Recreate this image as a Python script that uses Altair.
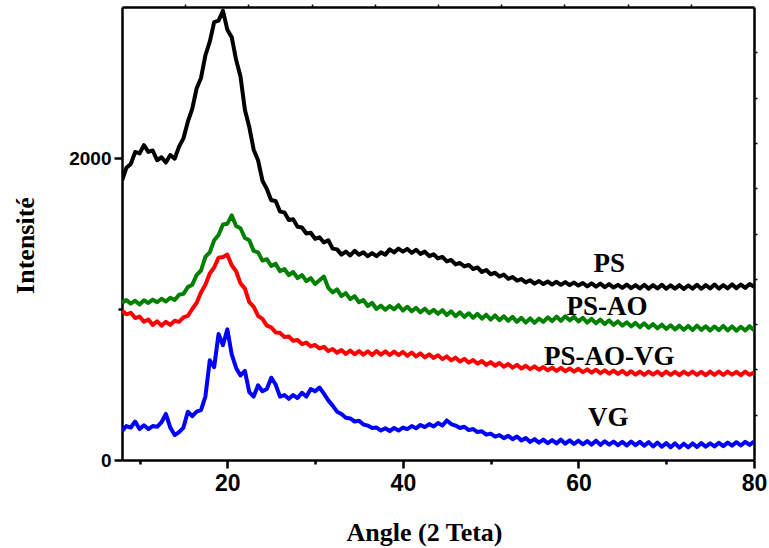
import altair as alt
import pandas as pd

# Diffraction angle grid (2 theta, degrees), 0.5 degree step from 8 to 80
ANGLES = [8 + 0.5 * i for i in range(145)]

PS = [
    1850, 1935, 1960, 2040, 2030, 2085, 2040, 2050, 1985, 2005, 1970, 2020, 1995, 2075, 2130, 2240,
    2325, 2460, 2530, 2680, 2770, 2900, 2910, 2975, 2850, 2800, 2650, 2540, 2320, 2205, 2055, 1985,
    1850, 1795, 1720, 1715, 1645, 1640, 1590, 1595, 1545, 1540, 1500, 1505, 1465, 1475, 1440, 1455,
    1400, 1395, 1360, 1380, 1355, 1385, 1360, 1375, 1350, 1370, 1350, 1375, 1360, 1395, 1375, 1400,
    1380, 1398, 1372, 1392, 1365, 1380, 1350, 1362, 1335, 1345, 1315, 1325, 1295, 1305, 1282, 1292,
    1265, 1275, 1245, 1258, 1230, 1240, 1215, 1228, 1200, 1212, 1188, 1198, 1176, 1190, 1168, 1185,
    1165, 1182, 1162, 1180, 1160, 1178, 1158, 1175, 1155, 1172, 1150, 1170, 1148, 1168, 1145, 1165,
    1142, 1160, 1140, 1162, 1138, 1158, 1136, 1160, 1135, 1158, 1136, 1160, 1134, 1157, 1135, 1158,
    1133, 1156, 1135, 1160, 1134, 1158, 1136, 1162, 1135, 1158, 1137, 1163, 1138, 1162, 1140, 1165,
    1148,
]

PS_AO = [
    1040, 1060, 1035, 1055, 1030, 1058, 1040, 1062, 1045, 1068, 1050, 1075, 1060, 1095, 1100, 1145,
    1160, 1225, 1255, 1345, 1375, 1455, 1490, 1560, 1565, 1620, 1550, 1535, 1470, 1455, 1385, 1375,
    1320, 1330, 1285, 1300, 1250, 1265, 1225, 1245, 1205, 1225, 1185, 1205, 1165, 1190, 1215, 1140,
    1110, 1130, 1085, 1105, 1065, 1085, 1045, 1060, 1020, 1040, 1000, 1022, 995, 1020, 998, 1025,
    990, 1015, 985, 1008, 978, 1002, 972, 995, 968, 992, 960, 985, 952, 978, 948, 972,
    942, 968, 936, 962, 930, 958, 926, 952, 922, 948, 915, 942, 910, 938, 908, 936,
    915, 945, 920, 950, 922, 952, 925, 948, 918, 942, 910, 935, 905, 930, 900, 925,
    895, 918, 890, 912, 885, 908, 880, 905, 876, 900, 872, 896, 868, 892, 865, 890,
    862, 888, 860, 890, 862, 886, 858, 884, 860, 888, 858, 885, 856, 882, 858, 886,
    860,
]

PS_AO_VG = [
    990, 965, 975, 940, 950, 915, 930, 895, 918, 890, 915, 895, 922, 915, 945, 955,
    1000, 1040, 1110, 1160, 1235, 1275, 1340, 1345, 1360, 1290, 1250, 1170, 1135, 1045, 1015, 955,
    935, 890, 878, 845, 842, 815, 818, 790, 795, 768, 778, 752, 762, 738, 750, 722,
    735, 710, 728, 702, 725, 700, 722, 698, 720, 696, 722, 698, 720, 695, 718, 695,
    716, 690, 712, 686, 706, 680, 700, 676, 694, 668, 686, 660, 678, 652, 670, 645,
    662, 638, 655, 630, 648, 624, 642, 618, 636, 612, 630, 606, 624, 602, 620, 598,
    616, 594, 612, 590, 610, 588, 606, 585, 604, 582, 600, 578, 598, 575, 594, 572,
    592, 570, 590, 566, 588, 565, 586, 564, 586, 565, 585, 562, 586, 564, 584, 562,
    585, 565, 586, 563, 584, 562, 585, 564, 586, 563, 585, 565, 584, 562, 586, 564,
    580,
]

VG = [
    190, 225, 215, 255, 205, 230, 205, 225, 220, 250, 305, 215, 165, 185, 215, 320,
    290, 320, 330, 420, 660, 615, 835, 760, 865, 700, 610, 560, 590, 450, 420, 495,
    455, 470, 545, 500, 420, 430, 405, 430, 410, 445, 420, 470, 455, 480, 440, 395,
    360, 320, 305, 280, 275, 255, 260, 235, 228, 212, 215, 195, 210, 192, 212, 195,
    215, 205, 225, 210, 232, 218, 238, 222, 245, 228, 262, 238, 228, 212, 220, 198,
    205, 185, 190, 168, 175, 155, 165, 145, 160, 138, 155, 130, 145, 120, 138, 115,
    135, 112, 132, 110, 135, 108, 130, 106, 128, 104, 125, 102, 128, 100, 124, 102,
    122, 98, 120, 96, 122, 98, 120, 95, 118, 90, 115, 88, 112, 85, 110, 82,
    108, 84, 110, 86, 112, 88, 110, 90, 114, 92, 115, 95, 118, 96, 120, 100,
    122,
]

SERIES = ["PS", "PS-AO", "PS-AO-VG", "VG"]
COLORS = ["#000000", "#008000", "#ff0000", "#0000ff"]
LABEL_X = [63.5, 63.25, 63.5, 63.4]
LABEL_Y = [1300, 1010, 680, 275]

X_DOMAIN = [8, 80]
Y_DOMAIN = [0, 3000]

SANS = "Liberation Sans"
SERIF = "Liberation Serif"

x_scale = alt.Scale(domain=X_DOMAIN, nice=False, zero=False)
y_scale = alt.Scale(domain=Y_DOMAIN, nice=False)

curves = [PS, PS_AO, PS_AO_VG, VG]

# One line layer per pattern, drawn in series order
line_layers = []
for name, color, values in zip(SERIES, COLORS, curves):
    df = pd.DataFrame({"angle": ANGLES, "intensity": values})
    line_layers.append(
        alt.Chart(df)
        .mark_line(color=color, strokeWidth=4, strokeJoin="round", interpolate="linear", clip=True)
        .encode(
            x=alt.X("angle:Q", scale=x_scale, axis=None),
            y=alt.Y("intensity:Q", scale=y_scale, axis=None),
        )
    )

# Series name labels
labels_df = pd.DataFrame({"name": SERIES, "x": LABEL_X, "y": LABEL_Y})
labels = (
    alt.Chart(labels_df)
    .mark_text(font=SERIF, fontWeight="bold", fontSize=27, baseline="middle", align="center", color="black")
    .encode(
        x=alt.X("x:Q", scale=x_scale, axis=None),
        y=alt.Y("y:Q", scale=y_scale, axis=None),
        text="name:N",
    )
)

anchor_df = pd.DataFrame({"x": X_DOMAIN, "y": Y_DOMAIN})

# Main bottom/left axes with labels and titles
main_axes = (
    alt.Chart(anchor_df)
    .mark_point(opacity=0)
    .encode(
        x=alt.X(
            "x:Q",
            scale=x_scale,
            axis=alt.Axis(
                orient="bottom",
                values=[20, 40, 60, 80],
                format="d",
                title="Angle (2 Teta)",
                titleFont=SERIF,
                titleFontSize=26,
                titleFontWeight="bold",
                titleColor="black",
                titleX=302,
                titleY=80,
                titleBaseline="alphabetic",
                labelFont=SANS,
                labelFontSize=23,
                labelFontWeight="bold",
                labelColor="black",
                labelPadding=4,
                tickSize=8,
                tickWidth=2.5,
                tickColor="black",
                domainColor="black",
                domainWidth=2.5,
                grid=False,
                labelFlush=False,
                labelOverlap=False,
            ),
        ),
        y=alt.Y(
            "y:Q",
            scale=y_scale,
            axis=alt.Axis(
                orient="left",
                values=[0, 2000],
                format="d",
                title="Intensité",
                titleFont=SERIF,
                titleFontSize=26,
                titleFontWeight="bold",
                titleColor="black",
                titleX=-97,
                titleY=238,
                titleAngle=270,
                titleBaseline="middle",
                titleAlign="center",
                labelFont=SANS,
                labelFontSize=19,
                labelFontWeight="bold",
                labelColor="black",
                labelPadding=3,
                tickSize=8,
                tickWidth=2.5,
                tickColor="black",
                domainColor="black",
                domainWidth=2.5,
                grid=False,
                labelFlush=False,
                labelOverlap=False,
            ),
        ),
    )
)

# Minor ticks on bottom and left
minor_axes = (
    alt.Chart(anchor_df)
    .mark_point(opacity=0)
    .encode(
        x=alt.X(
            "x:Q",
            scale=x_scale,
            axis=alt.Axis(
                orient="bottom", values=[10, 30, 50, 70], labels=False, title=None,
                tickSize=4, tickWidth=2.5, tickColor="black", domain=False, grid=False,
            ),
        ),
        y=alt.Y(
            "y:Q",
            scale=y_scale,
            axis=alt.Axis(
                orient="left", values=[1000], labels=False, title=None,
                tickSize=4, tickWidth=2.5, tickColor="black", domain=False, grid=False,
            ),
        ),
    )
)

# Small ticks along the top and right frame
frame_axes = (
    alt.Chart(anchor_df)
    .mark_point(opacity=0)
    .encode(
        x=alt.X(
            "x:Q",
            scale=x_scale,
            axis=alt.Axis(
                orient="top",
                values=[15.2, 22.4, 29.6, 36.8, 44.0, 51.2, 58.4, 65.6, 72.8],
                labels=False, title=None, tickSize=3, tickWidth=1.5, tickColor="black",
                domainColor="black", domainWidth=2.5, grid=False,
            ),
        ),
        y=alt.Y(
            "y:Q",
            scale=y_scale,
            axis=alt.Axis(
                orient="right",
                values=[300, 600, 900, 1200, 1500, 1800, 2100, 2400, 2700],
                labels=False, title=None, tickSize=3, tickWidth=1.5, tickColor="black",
                domainColor="black", domainWidth=2.5, grid=False,
            ),
        ),
    )
)

chart = (
    alt.layer(main_axes, minor_axes, frame_axes, *line_layers, labels)
    .resolve_axis(x="independent", y="independent")
    .properties(
        width=632,
        height=453,
        padding={"left": 122, "top": 7, "right": 15, "bottom": 88},
        autosize=alt.AutoSizeParams(type="none"),
        background="white",
    )
    .configure_view(stroke=None)
)

chart.save("out.html", embed_options={"renderer": "svg", "actions": False})
